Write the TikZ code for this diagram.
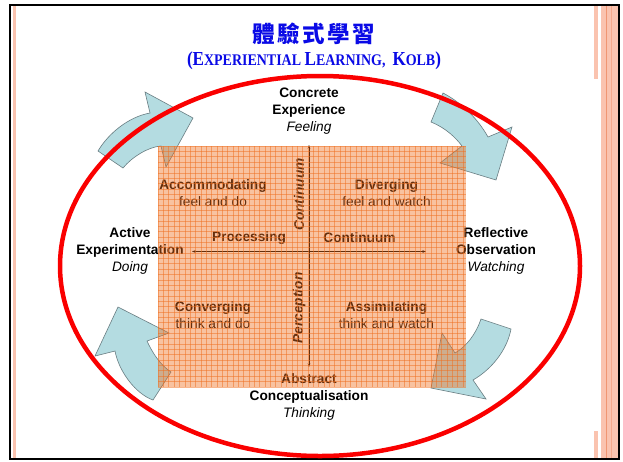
\documentclass[tikz,border=0pt]{standalone}
\usepackage{fontspec}
\usepackage{graphicx}
\setmainfont{Liberation Sans}
\newfontfamily\cjk{Noto Sans CJK TC}
\newfontfamily\serifsub{Liberation Serif}
\usetikzlibrary{arrows.meta}
\definecolor{arrowblue}{RGB}{180,220,225}
\definecolor{arrowline}{RGB}{105,125,130}
\definecolor{meshorange}{RGB}{240,110,30}
\definecolor{titleblue}{RGB}{10,10,230}
\definecolor{pinkline}{RGB}{250,195,175}
\definecolor{pinkdark}{RGB}{240,150,115}
\definecolor{ellred}{RGB}{250,0,0}
\begin{document}
\begin{tikzpicture}[x=1pt,y=-1pt,
  lbl/.style={font=\fontsize{13.7}{17}\selectfont\bfseries, align=center, inner sep=0pt, text=black},
  vlbl/.style={font=\fontsize{13.7}{17}\selectfont\bfseries\itshape, inner sep=0pt, rotate=90, text=black},
  blockarrow/.style={fill=arrowblue, draw=arrowline, line width=0.6pt, line join=miter},
  axisline/.style={line width=0.6pt, draw=black, {Stealth[length=3.5pt,width=2.5pt]}-{Stealth[length=3.5pt,width=2.5pt]}},
  gridline/.style={draw=meshorange, line width=0.5pt, draw opacity=0.5}]
\useasboundingbox (0,0) rectangle (623,461);
\fill[white] (0,0) rectangle (623,461);
% side strips
\fill[pinkline] (13,6) rectangle (15.5,458);
\fill[pinkline] (594.3,6) rectangle (597.7,79);
\fill[pinkline] (594.3,431) rectangle (597.7,458);
\fill[pinkline] (601,6) rectangle (617.5,458);
\draw[pinkdark, line width=0.6pt] (606,6) -- (606,458);
\draw[pinkdark, line width=0.4pt, opacity=0.6] (611,6) -- (611,458);
\draw[line width=2pt] (10,5) rectangle (619,459);
% title
\node[text=titleblue, inner sep=0pt] (title) at (314,34)
  {\cjk\bfseries\fontsize{22.5}{24}\selectfont 體\hspace{2.5pt}驗\hspace{2.5pt}式\hspace{2.5pt}學\hspace{2.5pt}習};
\node[text=titleblue, inner sep=0pt] (subtitle) at (314,61)
  {\resizebox*{254pt}{18pt}{\serifsub\bfseries\fontsize{18}{18}\selectfont (E\fontsize{14.7}{15}\selectfont XPERIENTIAL \fontsize{18}{18}\selectfont L\fontsize{14.7}{15}\selectfont EARNING,\ \ \fontsize{18}{18}\selectfont K\fontsize{14.7}{15}\selectfont OLB\fontsize{18}{18}\selectfont)}};
% curved block arrows
\draw[blockarrow] (98,151) .. controls (108,134) and (128,117) .. (150,113) -- (145,92) -- (193,118) -- (166,167) -- (161,146) .. controls (148,147) and (132,157) .. (123,168) -- cycle;
\draw[blockarrow] (443,93) .. controls (462,103) and (478,119) .. (488,137) -- (512,127) -- (496,180) -- (440,163) -- (462,146) .. controls (456,138) and (446,128) .. (431,122) -- cycle;
\draw[blockarrow] (511,329) .. controls (507,350) and (492,369) .. (473,380) -- (486,399) -- (431,388) -- (442,333) -- (455,353) .. controls (466,347) and (476,334) .. (481,319) -- cycle;
\draw[blockarrow] (153,400) .. controls (136,394) and (119,372) .. (115,351) -- (95,356) -- (118,307) -- (169,333) -- (147,341) .. controls (152,352) and (160,365) .. (171,372) -- cycle;
% labels
\node[lbl] (ce) at (309,111) {Concrete\\Experience\\{\mdseries\itshape Feeling}};
\node[lbl] (ac) at (309,397) {Abstract\\Conceptualisation\\{\mdseries\itshape Thinking}};
\node[lbl] (ae) at (130,251) {Active\\Experimentation\\{\mdseries\itshape Doing}};
\node[lbl] (ro) at (496,251) {Reflective\\Observation\\{\mdseries\itshape Watching}};
\node[lbl] (acc) at (213,193.5) {Accommodating\\{\mdseries feel and do}};
\node[lbl] (div) at (386.5,193.5) {Diverging\\{\mdseries feel and watch}};
\node[lbl] (con) at (213,315.5) {Converging\\{\mdseries think and do}};
\node[lbl] (ass) at (386.5,315.5) {Assimilating\\{\mdseries think and watch}};
\node[lbl] (proc) at (249,238) {Processing};
\node[lbl] (cont) at (359.5,238) {Continuum};
\node[vlbl] (vcont) at (299,194.5) {Continuum};
\node[vlbl] (perc) at (299,308) {Perception};
% axes
\coordinate (vtop) at (309,145);
\coordinate (vbot) at (309,367);
\coordinate (hleft) at (192,251.5);
\coordinate (hright) at (426,251.5);
\draw[axisline] (vtop) -- (vbot);
\draw[axisline] (hleft) -- (hright);
% mesh overlay
\fill[meshorange, fill opacity=0.42] (158,146) rectangle (466,387);
\foreach \gx in {158,163.35,...,466} {\draw[gridline] (\gx,146) -- (\gx,387);}
\foreach \gy in {146,151.35,...,387} {\draw[gridline] (158,\gy) -- (466,\gy);}
% red ellipse
\draw[ellred, line width=4.5pt] (320,266) ellipse [x radius=260, y radius=190];
\end{tikzpicture}
\end{document}
